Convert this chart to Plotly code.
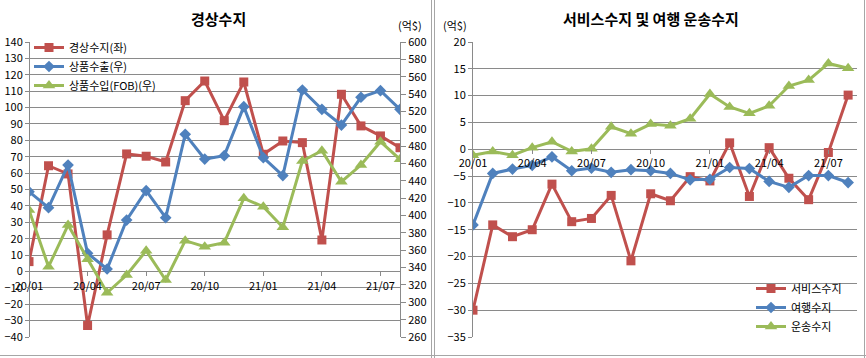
import plotly.graph_objects as go

# ---------------- data ----------------
months = ["20/01", "20/02", "20/03", "20/04", "20/05", "20/06", "20/07", "20/08",
          "20/09", "20/10", "20/11", "20/12", "21/01", "21/02", "21/03", "21/04",
          "21/05", "21/06", "21/07", "21/08"]
tick_labels = ["20/01", "20/04", "20/07", "20/10", "21/01", "21/04", "21/07"]

current_account = [6.0, 64.5, 59.5, -33.0, 22.3, 71.7, 70.3, 66.8, 104.2, 116.2,
                   92.0, 115.6, 71.5, 79.6, 78.6, 19.2, 108.1, 88.8, 82.7, 75.5]
goods_export = [427.5, 409.0, 458.2, 356.4, 338.4, 394.8, 428.6, 397.5, 493.6, 465.1,
                469.0, 525.5, 466.7, 446.0, 544.7, 522.4, 504.3, 536.3, 543.9, 522.4]
goods_import = [406.4, 341.0, 389.0, 349.5, 311.0, 331.4, 359.5, 325.7, 371.0, 364.0,
                368.7, 419.8, 410.2, 386.4, 462.8, 474.7, 439.0, 458.2, 485.1, 464.8]

services = [-30.0, -14.1, -16.3, -15.0, -6.5, -13.5, -12.9, -8.6, -20.8, -8.3,
            -9.6, -5.1, -5.9, 1.2, -8.8, 0.3, -5.4, -9.4, -0.6, 10.1]
travel = [-14.1, -4.5, -3.7, -3.0, -1.4, -4.0, -3.5, -4.3, -3.8, -4.0,
          -4.5, -5.7, -5.6, -3.4, -3.6, -6.0, -7.1, -4.9, -4.9, -6.2]
transport = [-1.1, -0.4, -1.1, 0.3, 1.4, -0.4, 0.1, 4.2, 2.9, 4.7,
             4.4, 5.7, 10.3, 7.9, 6.7, 8.1, 11.8, 12.9, 16.0, 15.1]

RED = "#C0504D"
BLUE = "#4F81BD"
GREEN = "#9BBB59"
GRID = "#8a8a8a"
FONT = "Noto Sans CJK KR, sans-serif"

W, H = 866, 358


def px_x(v):
    return v / W


def px_y(v):
    return (H - v) / H


# plot areas in pixels
L_X0, L_X1 = 29, 400
R_X0, R_X1 = 472, 857
Y_TOP, Y_BOT = 42, 337

fig = go.Figure()

line_w = 3
fig.add_trace(go.Scatter(x=months, y=current_account, name="경상수지(좌)", mode="lines+markers",
                         line=dict(color=RED, width=line_w),
                         marker=dict(symbol="square", size=9, color=RED),
                         xaxis="x", yaxis="y", legend="legend"))
fig.add_trace(go.Scatter(x=months, y=goods_export, name="상품수출(우)", mode="lines+markers",
                         line=dict(color=BLUE, width=line_w),
                         marker=dict(symbol="diamond", size=9, color=BLUE),
                         xaxis="x", yaxis="y2", legend="legend"))
fig.add_trace(go.Scatter(x=months, y=goods_import, name="상품수입(FOB)(우)", mode="lines+markers",
                         line=dict(color=GREEN, width=line_w),
                         marker=dict(symbol="triangle-up", size=11, color=GREEN),
                         xaxis="x", yaxis="y2", legend="legend"))

fig.add_trace(go.Scatter(x=months, y=services, name="서비스수지", mode="lines+markers",
                         line=dict(color=RED, width=line_w),
                         marker=dict(symbol="square", size=9, color=RED),
                         xaxis="x2", yaxis="y3", legend="legend2"))
fig.add_trace(go.Scatter(x=months, y=travel, name="여행수지", mode="lines+markers",
                         line=dict(color=BLUE, width=line_w),
                         marker=dict(symbol="diamond", size=9, color=BLUE),
                         xaxis="x2", yaxis="y3", legend="legend2"))
fig.add_trace(go.Scatter(x=months, y=transport, name="운송수지", mode="lines+markers",
                         line=dict(color=GREEN, width=line_w),
                         marker=dict(symbol="triangle-up", size=11, color=GREEN),
                         xaxis="x2", yaxis="y3", legend="legend2"))

ydom = [px_y(Y_BOT), px_y(Y_TOP)]
tickfont = dict(family=FONT, size=11, color="#000000")

y_range_l = [-40, 140]
x_pos_l = ydom[0] + (0 - y_range_l[0]) / (y_range_l[1] - y_range_l[0]) * (ydom[1] - ydom[0])
y_range_r = [-35, 20]
x_pos_r = ydom[0] + (0 - y_range_r[0]) / (y_range_r[1] - y_range_r[0]) * (ydom[1] - ydom[0])

common_x = dict(type="category", showgrid=False, zeroline=False, showline=False,
                tickmode="array", tickvals=tick_labels, ticktext=tick_labels,
                ticks="outside", ticklen=4, tickcolor=GRID, tickfont=tickfont,
                anchor="free", tickangle=0)

fig.update_layout(
    width=W, height=H,
    margin=dict(l=0, r=0, t=0, b=0, autoexpand=False),
    paper_bgcolor="white", plot_bgcolor="rgba(0,0,0,0)",
    font=dict(family=FONT, size=11, color="#000000"),
    xaxis=dict(domain=[px_x(L_X0), px_x(L_X1)], range=[0, 19], position=x_pos_l, **common_x),
    xaxis2=dict(domain=[px_x(R_X0), px_x(R_X1)], range=[-0.05, 19.45], position=x_pos_r, **common_x),
    yaxis=dict(domain=ydom, range=y_range_l, dtick=10, tick0=0, showgrid=True, gridcolor=GRID,
               gridwidth=1, zeroline=False, showline=True, linecolor=GRID, linewidth=1,
               ticks="outside", ticklen=4, tickcolor=GRID, tickfont=tickfont,
               anchor="free", position=px_x(L_X0)),
    yaxis2=dict(domain=ydom, range=[260, 600], dtick=20, tick0=260, overlaying="y", side="right",
                showgrid=False, zeroline=False, showline=True, linecolor=GRID, linewidth=1,
                ticks="outside", ticklen=5, tickcolor=GRID, tickfont=tickfont,
                anchor="free", position=px_x(L_X1)),
    yaxis3=dict(domain=ydom, range=y_range_r, dtick=5, tick0=0, showgrid=True, gridcolor=GRID,
                gridwidth=1, zeroline=False, showline=True, linecolor=GRID, linewidth=1,
                ticks="outside", ticklen=4, tickcolor=GRID, tickfont=tickfont,
                anchor="free", position=px_x(R_X0)),
    legend=dict(x=px_x(29), y=px_y(33), xanchor="left", yanchor="top",
                bgcolor="rgba(0,0,0,0)", font=dict(family=FONT, size=11, color="#000000"),
                itemwidth=30, tracegroupgap=0),
    legend2=dict(x=px_x(751), y=px_y(341), xanchor="left", yanchor="bottom",
                 bgcolor="rgba(0,0,0,0)", font=dict(family=FONT, size=11, color="#000000"),
                 itemwidth=30, tracegroupgap=0),
    showlegend=True,
)

annotations = [
    dict(text="<b>경상수지</b>", x=px_x(218), y=px_y(18), xref="paper", yref="paper",
         xanchor="center", yanchor="middle",
         showarrow=False, font=dict(family=FONT, size=15, color="#000000")),
    dict(text="<b>서비스수지 및 여행 운송수지</b>", x=px_x(651), y=px_y(18), xref="paper", yref="paper",
         xanchor="center", yanchor="middle",
         showarrow=False, font=dict(family=FONT, size=15, color="#000000")),
    dict(text="(억$)", x=px_x(410), y=px_y(25), xref="paper", yref="paper",
         xanchor="center", yanchor="middle",
         showarrow=False, font=dict(family=FONT, size=11, color="#000000")),
    dict(text="(억$)", x=px_x(455), y=px_y(25), xref="paper", yref="paper",
         xanchor="center", yanchor="middle",
         showarrow=False, font=dict(family=FONT, size=11, color="#000000")),
]
fig.update_layout(annotations=annotations)

frame = "#a6a6a6"
shapes = [
    dict(type="line", xref="paper", yref="paper", x0=px_x(431.5), x1=px_x(431.5), y0=0, y1=1,
         line=dict(color=frame, width=1)),
    dict(type="line", xref="paper", yref="paper", x0=px_x(434.5), x1=px_x(434.5), y0=0, y1=1,
         line=dict(color=frame, width=1)),
    dict(type="line", xref="paper", yref="paper", x0=px_x(864.5), x1=px_x(864.5), y0=0, y1=1,
         line=dict(color=frame, width=1)),
    dict(type="line", xref="paper", yref="paper", x0=0, x1=1, y0=px_y(355.5), y1=px_y(355.5),
         line=dict(color=frame, width=1)),
]
fig.update_layout(shapes=shapes)

fig.write_html("out.html", config={"displayModeBar": False},
               post_script="document.body.style.margin='0';document.body.style.overflow='hidden';")
